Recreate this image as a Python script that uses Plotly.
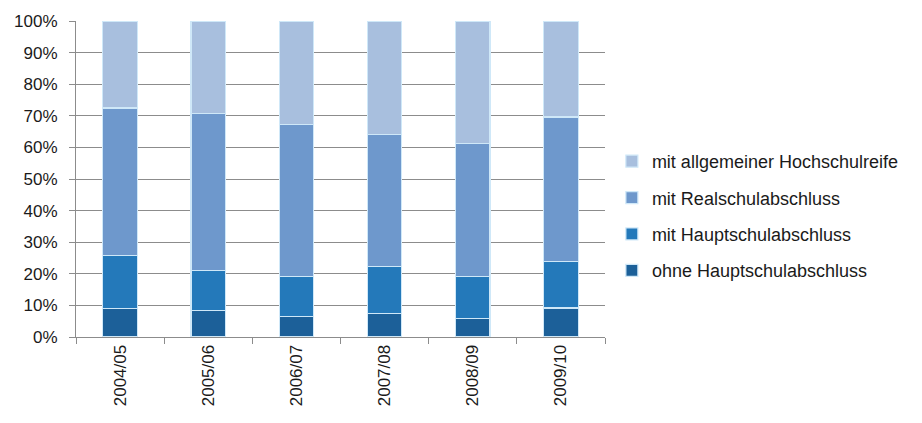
import plotly.graph_objects as go

categories = ["2004/05", "2005/06", "2006/07", "2007/08", "2008/09", "2009/10"]
ohne_haupt = [9.0, 8.3, 6.4, 7.4, 5.8, 9.2]
mit_haupt = [16.7, 12.7, 12.7, 14.9, 13.4, 14.7]
mit_real = [46.8, 49.8, 48.1, 41.7, 42.0, 45.7]
mit_abitur = [27.5, 29.2, 32.8, 36.0, 38.8, 30.4]

series = [
    ("ohne Hauptschulabschluss", ohne_haupt, "#1C6099"),
    ("mit Hauptschulabschluss", mit_haupt, "#2479BA"),
    ("mit Realschulabschluss", mit_real, "#6E98CC"),
    ("mit allgemeiner Hochschulreife", mit_abitur, "#A8BFDE"),
]

fig = go.Figure()
for i, (name, vals, col) in enumerate(series):
    fig.add_trace(go.Bar(
        x=categories, y=[v / 100 for v in vals], name=name,
        marker=dict(color=col, line=dict(color="#CFE8F8", width=1.2)),
        legendgroup=f"g{i}", legendrank=10 - i,
    ))

fig.update_layout(
    barmode="stack",
    bargap=0.61,
    width=922, height=423,
    margin=dict(l=76, r=317, t=17, b=86),
    plot_bgcolor="white", paper_bgcolor="white",
    font=dict(family="Liberation Sans, Arial, sans-serif", size=17, color="#1a1a1a"),
    showlegend=True,
    legend=dict(
        x=1.013, y=0.383, xanchor="left", yanchor="middle",
        traceorder="grouped", tracegroupgap=10,
        font=dict(size=18, color="#1a1a1a"),
        itemwidth=30,
    ),
)
fig.update_yaxes(
    range=[0, 1], tickvals=[i / 10 for i in range(11)], tickformat=".0%",
    showgrid=True, gridcolor="#8C8C8C", gridwidth=1,
    showline=True, linecolor="#8C8C8C", linewidth=1,
    ticks="outside", ticklen=6, tickcolor="#8C8C8C", ticklabelstandoff=8,
    zeroline=False, tickfont=dict(size=17),
)
fig.update_xaxes(
    showline=True, linecolor="#8C8C8C", linewidth=1,
    ticks="outside", ticklen=6, tickcolor="#8C8C8C", tickson="boundaries",
    tickangle=-90, tickfont=dict(size=17),
)

fig.write_html("out.html")
